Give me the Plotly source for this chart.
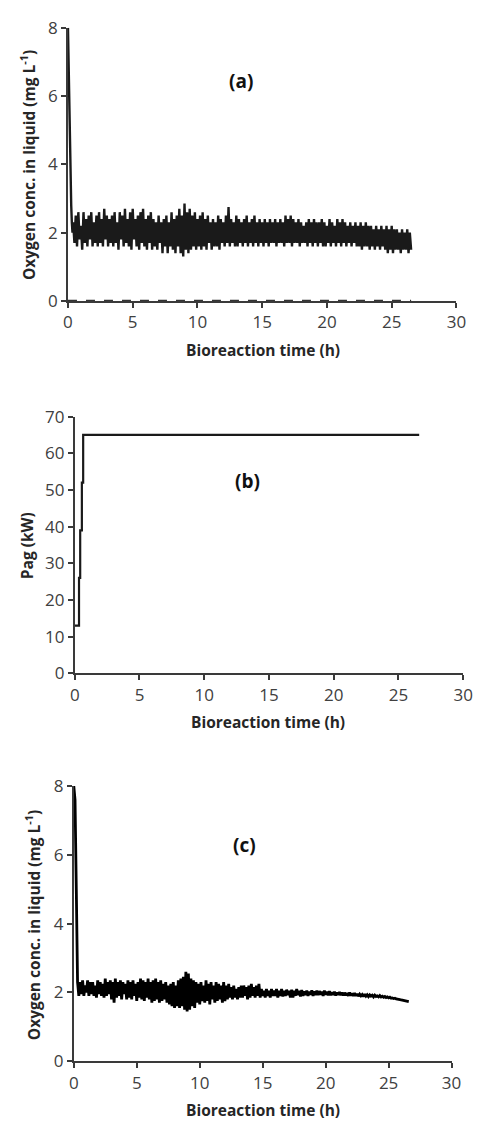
import plotly.graph_objects as go

# ---------------- data ----------------
# Panel (a): oxygen concentration, start-up transient then noisy band (0.1 h samples from 0.4 h)
a_t_start = [0.0, 0.05, 0.1, 0.15, 0.2, 0.25, 0.3, 0.35]
a_y_start = [8.0, 7.0, 5.5, 4.0, 3.6, 2.8, 2.3, 2.0]
a_y_noise = [
    2.3, 1.7, 2.5, 1.6, 2.6, 1.8, 2.2, 1.5, 2.6, 1.7,
    2.4, 1.6, 2.5, 1.8, 2.6, 1.6, 2.3, 1.7, 2.5, 1.6,
    2.6, 1.7, 2.4, 1.6, 2.7, 1.8, 2.5, 1.6, 2.4, 1.7,
    2.5, 1.6, 2.6, 1.7, 2.3, 1.5, 2.6, 1.8, 2.5, 1.6,
    2.7, 1.7, 2.4, 1.6, 2.6, 1.5, 2.7, 1.8, 2.4, 1.6,
    2.5, 1.5, 2.6, 1.7, 2.7, 1.6, 2.4, 1.5, 2.5, 1.7,
    2.6, 1.5, 2.4, 1.6, 2.3, 1.5, 2.5, 1.7, 2.3, 1.4,
    2.4, 1.6, 2.5, 1.4, 2.3, 1.6, 2.6, 1.5, 2.4, 1.4,
    2.5, 1.6, 2.7, 1.4, 2.5, 1.3, 2.85, 1.5, 2.6, 1.4,
    2.7, 1.5, 2.5, 1.6, 2.6, 1.5, 2.4, 1.6, 2.5, 1.5,
    2.6, 1.6, 2.4, 1.5, 2.5, 1.7, 2.3, 1.5, 2.4, 1.6,
    2.3, 1.6, 2.5, 1.5, 2.4, 1.7, 2.3, 1.6, 2.5, 1.7,
    2.75, 1.6, 2.4, 1.7, 2.3, 1.6, 2.5, 1.6, 2.4, 1.7,
    2.3, 1.6, 2.4, 1.7, 2.5, 1.6, 2.3, 1.7, 2.4, 1.6,
    2.5, 1.7, 2.3, 1.6, 2.4, 1.7, 2.3, 1.6, 2.4, 1.7,
    2.3, 1.6, 2.4, 1.7, 2.3, 1.7, 2.4, 1.6, 2.3, 1.7,
    2.4, 1.7, 2.3, 1.6, 2.5, 1.7, 2.4, 1.7, 2.5, 1.6,
    2.4, 1.7, 2.3, 1.7, 2.4, 1.6, 2.3, 1.7, 2.2, 1.7,
    2.3, 1.6, 2.4, 1.7, 2.3, 1.6, 2.4, 1.7, 2.3, 1.6,
    2.3, 1.7, 2.4, 1.6, 2.3, 1.6, 2.2, 1.7, 2.4, 1.6,
    2.3, 1.7, 2.2, 1.6, 2.4, 1.7, 2.3, 1.6, 2.4, 1.7,
    2.3, 1.6, 2.2, 1.7, 2.3, 1.6, 2.2, 1.7, 2.3, 1.6,
    2.2, 1.6, 2.3, 1.5, 2.2, 1.6, 2.3, 1.6, 2.2, 1.5,
    2.2, 1.6, 2.1, 1.5, 2.2, 1.6, 2.1, 1.5, 2.2, 1.6,
    2.1, 1.5, 2.2, 1.4, 2.1, 1.5, 2.2, 1.4, 2.1, 1.5,
    2.1, 1.5, 2.0, 1.4, 2.1, 1.5, 2.0, 1.5, 2.1, 1.4,
    2.0, 1.5,
]
a_dash_t = [0.0, 26.5]
a_dash_y = [0.02, 0.02]

# Panel (b): agitation power steps
b_t = [0.0, 0.33, 0.42, 0.55, 0.65, 26.6]
b_y = [13, 26, 39, 52, 65, 65]

# Panel (c): oxygen concentration with controller
c_t_start = [0.0, 0.1, 0.2, 0.3]
c_y_start = [8.0, 7.6, 5.0, 2.3]
c_y_noise = [
    1.9, 2.3, 1.95, 2.35, 1.9, 2.2, 2.0, 2.35, 1.9, 2.3,
    1.95, 2.3, 1.9, 2.2, 1.85, 2.35, 1.95, 2.3, 1.9, 2.25,
    1.85, 2.4, 1.9, 2.3, 1.95, 2.35, 1.8, 2.3, 1.7, 2.4,
    1.85, 2.3, 1.9, 2.35, 1.8, 2.3, 1.95, 2.25, 1.8, 2.35,
    1.85, 2.3, 1.8, 2.35, 1.9, 2.25, 1.75, 2.3, 1.85, 2.4,
    1.8, 2.35, 1.75, 2.3, 1.85, 2.4, 1.8, 2.3, 1.7, 2.35,
    1.75, 2.4, 1.8, 2.3, 1.7, 2.35, 1.75, 2.25, 1.8, 2.3,
    1.7, 2.2, 1.65, 2.25, 1.6, 2.3, 1.55, 2.2, 1.6, 2.35,
    1.55, 2.4, 1.6, 2.45, 1.5, 2.6, 1.45, 2.55, 1.5, 2.4,
    1.6, 2.35, 1.55, 2.3, 1.7, 2.25, 1.65, 2.3, 1.75, 2.2,
    1.7, 2.35, 1.75, 2.25, 1.65, 2.3, 1.8, 2.2, 1.7, 2.3,
    1.75, 2.25, 1.8, 2.2, 1.7, 2.3, 1.75, 2.2, 1.8, 2.25,
    1.85, 2.15, 1.8, 2.2, 1.85, 2.1, 1.8, 2.15, 1.85, 2.2,
    1.85, 2.2, 1.9, 2.15, 1.8, 2.2, 1.85, 2.25, 1.9, 2.15,
    1.85, 2.2, 1.9, 2.25, 1.85, 2.1, 1.9, 2.05, 1.85, 2.1,
    1.9, 2.05, 1.85, 2.1, 1.9, 2.05, 1.9, 2.1, 1.85, 2.05,
    1.9, 2.1, 1.88, 2.05, 1.9, 2.08, 1.92, 2.05, 1.85, 2.08,
    1.85, 2.05, 1.9, 2.1, 1.92, 2.05, 1.88, 2.07, 1.9, 2.03,
    1.92, 2.05, 1.9, 2.02, 1.93, 2.06, 1.9, 2.03, 1.92, 2.05,
    1.92, 2.04, 1.93, 2.02, 1.9, 2.05, 1.93, 2.02, 1.92, 2.04,
    1.92, 2.0, 1.93, 2.02, 1.91, 2.0, 1.93, 2.01, 1.92, 2.0,
    1.91, 1.99, 1.92, 1.98, 1.9, 2.0, 1.91, 1.97, 1.9, 1.98,
    1.9, 1.96, 1.89, 1.95, 1.9, 1.94, 1.88, 1.95, 1.89, 1.93,
    1.88, 1.93, 1.89, 1.92, 1.87, 1.92, 1.88, 1.9, 1.87, 1.91,
    1.87, 1.89, 1.86, 1.88, 1.85, 1.87, 1.84, 1.86, 1.83, 1.84,
    1.82, 1.83, 1.81, 1.81, 1.8, 1.79, 1.78, 1.77, 1.76, 1.76,
    1.75, 1.74, 1.73,
]

noise_t0 = 0.4
noise_dt = 0.1
a_t = a_t_start + [round(noise_t0 + noise_dt * i, 2) for i in range(len(a_y_noise))]
a_y = a_y_start + a_y_noise
c_t = c_t_start + [round(noise_t0 + noise_dt * i, 2) for i in range(len(c_y_noise))]
c_y = c_y_start + c_y_noise

x_ticks = [0, 5, 10, 15, 20, 25, 30]
o2_ticks = [0, 2, 4, 6, 8]
p_ticks = [0, 10, 20, 30, 40, 50, 60, 70]

x_title = "Bioreaction time (h)"
o2_title = "Oxygen conc. in liquid (mg L<sup>-1</sup>)"
p_title = "Pag (kW)"

# ---------------- figure ----------------
W, H = 480, 1132
FONT = "Open Sans"
LINE = "#1a1a1a"
AXC = "#3a3a3a"
TXT = "#404040"
TITLE = "#262626"

fig = go.Figure()
fig.add_trace(go.Scatter(x=a_t, y=a_y, mode="lines", line=dict(color=LINE, width=2.4),
                         xaxis="x", yaxis="y", showlegend=False))
fig.add_trace(go.Scatter(x=a_dash_t, y=a_dash_y, mode="lines",
                         line=dict(color="#333333", width=1.2, dash="dash"),
                         xaxis="x", yaxis="y", showlegend=False))
fig.add_trace(go.Scatter(x=b_t, y=b_y, mode="lines", line=dict(color=LINE, width=2.2, shape="hv"),
                         xaxis="x2", yaxis="y2", showlegend=False))
fig.add_trace(go.Scatter(x=c_t, y=c_y, mode="lines", line=dict(color="#000000", width=2.8),
                         xaxis="x3", yaxis="y3", showlegend=False))


def px_x(p):
    return p / W


def px_y(p):
    return 1 - p / H


panels = [
    # (left, right, top, bottom) pixel positions of plot area
    (65, 466, 16, 295),
    (72, 473, 413, 675),
    (71, 461, 790, 1071),
]

axis_common = dict(
    showgrid=False, zeroline=False, showline=True, linecolor=AXC, linewidth=1.8,
    ticks="outside", ticklen=5, tickwidth=1.5, tickcolor=AXC,
    tickfont=dict(family=FONT, size=17, color=TXT),
)

layout = dict(
    width=W, height=H, margin=dict(l=0, r=0, t=0, b=0),
    paper_bgcolor="white", plot_bgcolor="white",
    font=dict(family=FONT, color=TXT),
)

ranges_y = [[0, 8], [0, 70], [0, 8]]
ticks_y = [o2_ticks, p_ticks, o2_ticks]
for i, (l, r, t, b) in enumerate(panels):
    sfx = "" if i == 0 else str(i + 1)
    layout["xaxis" + sfx] = dict(axis_common, domain=[px_x(l), px_x(r)], range=[0, 30],
                                 tickvals=x_ticks, anchor="y" + sfx)
    layout["yaxis" + sfx] = dict(axis_common, domain=[px_y(b), px_y(t)], range=ranges_y[i],
                                 tickvals=ticks_y[i], anchor="x" + sfx)

fig.update_layout(**layout)

ann = []
bold = dict(family=FONT, size=15.5, color=TITLE)
# x titles
for cx, cy in [(266, 345), (271, 725), (266, 1121)]:
    ann.append(dict(x=px_x(cx), y=px_y(cy), xref="paper", yref="paper", text="<b>%s</b>" % x_title,
                    showarrow=False, font=bold, xanchor="center", yanchor="middle"))
# y titles
for cx, cy, txt in [(24, 156, o2_title), (23, 545, p_title), (29, 932, o2_title)]:
    ann.append(dict(x=px_x(cx), y=px_y(cy), xref="paper", yref="paper", text="<b>%s</b>" % txt,
                    showarrow=False, font=bold, textangle=-90, xanchor="center", yanchor="middle"))
# panel labels
for cx, cy, txt in [(244, 70, "(a)"), (250, 479, "(b)"), (247, 850, "(c)")]:
    ann.append(dict(x=px_x(cx), y=px_y(cy), xref="paper", yref="paper", text="<b>%s</b>" % txt,
                    showarrow=False, font=dict(family=FONT, size=19, color="#111111"),
                    xanchor="center", yanchor="middle"))
fig.update_layout(annotations=ann)

fig.write_html("out.html")
